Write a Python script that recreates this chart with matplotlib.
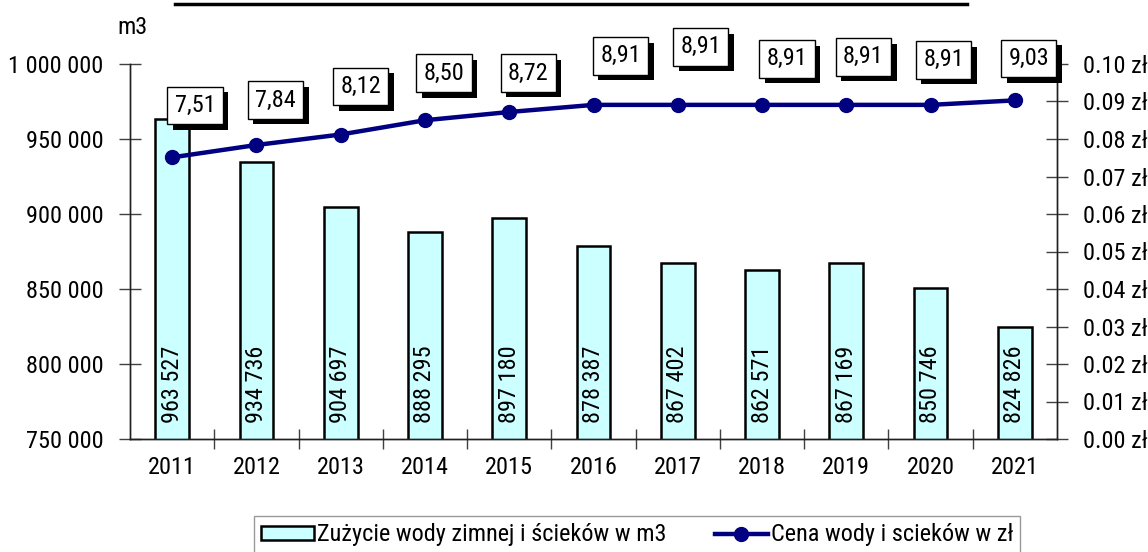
import matplotlib
matplotlib.use("Agg")
import matplotlib.pyplot as plt
from matplotlib.lines import Line2D
from matplotlib.patches import Patch
import matplotlib.patheffects as pe
from matplotlib.ticker import FuncFormatter, MultipleLocator
from matplotlib import font_manager

names = {f.name for f in font_manager.fontManager.ttflist}
if 'Roboto Condensed' in names:
    fam, FS = ['Roboto Condensed'], 17.5
else:
    fam, FS = ['Liberation Sans'], 15.5
plt.rcParams['font.family'] = fam + ['DejaVu Sans']

years = ['2011', '2012', '2013', '2014', '2015', '2016', '2017', '2018', '2019', '2020', '2021']
usage_m3 = [963527, 934736, 904697, 888295, 897180, 878387, 867402, 862571, 867169, 850746, 824826]
price_zl = [7.51, 7.84, 8.12, 8.50, 8.72, 8.91, 8.91, 8.91, 8.91, 8.91, 9.03]
usage_label = 'Zużycie wody zimnej i ścieków w m3'
price_label = 'Cena wody i scieków w zł'

# label box offsets (pixels) relative to line points
label_offsets = [(23, 52), (19, 45), (20, 48), (19, 47), (19, 39), (27, 49),
                 (23, 58), (25, 46), (17, 48), (13, 45), (14, 42)]

W, H = 1148, 552
fig = plt.figure(figsize=(W / 100, H / 100), dpi=100)
ax = fig.add_axes([130 / W, 1 - 439 / H, (1057 - 130) / W, (439 - 64) / H])
ax2 = ax.twinx()

x = list(range(len(years)))
ax.bar(x, usage_m3, width=0.4, color='#CCFFFF', edgecolor='black', linewidth=1.8, zorder=2)
ax.set_xlim(-0.5, len(years) - 0.5)
ax.set_ylim(750000, 1000000)
ax.yaxis.set_major_locator(MultipleLocator(50000))
ax.yaxis.set_major_formatter(FuncFormatter(lambda v, p: f"{int(v):,}".replace(',', ' ')))
ax.set_xticks([i + 0.5 for i in x[:-1]])
ax.set_xticklabels([])
ax.set_xticks(x, minor=True)
ax.set_xticklabels(years, minor=True, fontsize=FS)
ax.tick_params(axis='x', which='minor', length=0, pad=12)
ax.tick_params(axis='x', which='major', direction='inout', length=15, color='#404040', width=1)
ax.tick_params(axis='y', direction='inout', length=16, color='#404040', width=1, labelsize=FS, pad=11)

ax.spines['top'].set_visible(False)
ax2.spines['top'].set_visible(False)
for a in (ax, ax2):
    for sp in ['left', 'right', 'bottom']:
        a.spines[sp].set_color('#202020')
        a.spines[sp].set_linewidth(1.0)

for xi, v in zip(x, usage_m3):
    ax.annotate(f"{v:,}".replace(',', ' '), (xi, 750000), xytext=(0, 16), textcoords='offset pixels',
                rotation=90, ha='center', va='bottom', fontsize=FS, zorder=3)

price_scaled = [p / 100 for p in price_zl]
ax2.plot(x, price_scaled, color='#000080', linewidth=3.2, marker='o', markersize=10, zorder=4)
ax2.set_ylim(0, 0.10)
ax2.yaxis.set_major_locator(MultipleLocator(0.01))
ax2.yaxis.set_major_formatter(FuncFormatter(lambda v, p: f"{v:.2f} zł"))
ax2.tick_params(axis='y', direction='inout', length=16, color='#404040', width=1, labelsize=FS, pad=11)

for xi, p, ps, (dx, dy) in zip(x, price_zl, price_scaled, label_offsets):
    t = ax2.annotate(f"{p:.2f}".replace('.', ','), (xi, ps), xytext=(dx, dy), textcoords='offset pixels',
                     ha='center', va='center', fontsize=FS, zorder=6,
                     bbox=dict(boxstyle='square,pad=0.3', fc='white', ec='black', lw=1))
    t.get_bbox_patch().set_path_effects([pe.SimplePatchShadow(offset=(4, -4), shadow_rgbFace='black', alpha=1.0),
                                         pe.Normal()])

fig.text(132 / W, 1 - 27 / H, 'm3', ha='center', va='center', fontsize=FS)
fig.add_artist(Line2D([175 / W, 967 / W], [1 - 4 / H, 1 - 4 / H], color='black', linewidth=2.5))

handles = [Patch(facecolor='#CCFFFF', edgecolor='black', linewidth=1.8),
           Line2D([0], [0], color='#000080', linewidth=3.2, marker='o', markersize=10)]
leg = fig.legend(handles, [usage_label, price_label], loc='upper center',
                 bbox_to_anchor=(637 / W, 1 - 516 / H), borderaxespad=0, ncol=2, frameon=True,
                 fancybox=False, edgecolor='#808080', fontsize=FS, handlelength=2.2, handleheight=0.5,
                 handletextpad=0.1, columnspacing=2.0, borderpad=0.3)
leg.get_frame().set_linewidth(1.0)

fig.savefig('out.png', dpi=100)
